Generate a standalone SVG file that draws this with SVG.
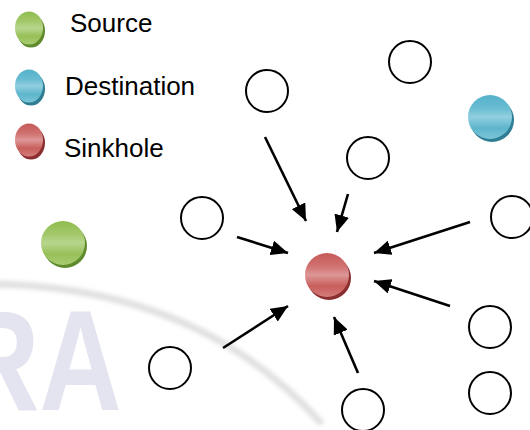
<svg xmlns="http://www.w3.org/2000/svg" width="530" height="430" viewBox="0 0 530 430">
  <defs>
    <style>
      .node { fill: #ffffff; stroke: #000000; stroke-width: 2; }
      .edge { stroke: #000000; stroke-width: 2.6; fill: none; marker-end: url(#head); }
      .label { font-family: "Liberation Sans", Arial, sans-serif; font-size: 26px; fill: #000000; }
      .wm { font-family: "Liberation Sans", Arial, sans-serif; font-weight: bold; font-size: 142px; fill: #e4e4f1; }
    </style>
    <marker id="head" viewBox="0 0 17 15" refX="17" refY="7.5" markerWidth="17" markerHeight="15" markerUnits="userSpaceOnUse" orient="auto">
      <path d="M0,0 L17,7.5 L0,15 z" fill="#000000"/>
    </marker>
    <linearGradient id="gGreen" x1="0" y1="0" x2="0" y2="1">
      <stop offset="0" stop-color="#8fbc4e"/>
      <stop offset="0.3" stop-color="#a3c86a"/>
      <stop offset="0.5" stop-color="#b8d68e"/>
      <stop offset="0.75" stop-color="#97c058"/>
      <stop offset="1" stop-color="#a8cc72"/>
    </linearGradient>
    <linearGradient id="gBlue" x1="0" y1="0" x2="0" y2="1">
      <stop offset="0" stop-color="#55b2ca"/>
      <stop offset="0.3" stop-color="#68bcd2"/>
      <stop offset="0.5" stop-color="#92cfe0"/>
      <stop offset="0.75" stop-color="#5db5cc"/>
      <stop offset="1" stop-color="#7cc5d8"/>
    </linearGradient>
    <linearGradient id="gRed" x1="0" y1="0" x2="0" y2="1">
      <stop offset="0" stop-color="#c65b59"/>
      <stop offset="0.3" stop-color="#cf7170"/>
      <stop offset="0.5" stop-color="#dc9796"/>
      <stop offset="0.75" stop-color="#c85e5c"/>
      <stop offset="1" stop-color="#d47c7a"/>
    </linearGradient>
    <filter id="soft" x="-10%" y="-10%" width="120%" height="120%">
      <feGaussianBlur stdDeviation="2"/>
    </filter>
  </defs>

  <!-- faint background mark -->
  <g id="watermark">
    <path d="M-5,284 Q200,288 322,424" fill="none" stroke="#e0e0e0" stroke-width="7" filter="url(#soft)"/>
    <text class="wm" x="0" y="410" transform="scale(0.8,1)" text-anchor="end" dx="152">RA</text>
  </g>

  <!-- legend -->
  <g id="legend">
    <g id="legend-source">
      <ellipse cx="31" cy="31" rx="14" ry="16.5" fill="#5f8b2d"/>
      <ellipse cx="29" cy="28" rx="14" ry="16.5" fill="url(#gGreen)"/>
      <text class="label" x="70" y="32">Source</text>
    </g>
    <g id="legend-destination">
      <ellipse cx="31" cy="89" rx="14" ry="16.5" fill="#2f7d93"/>
      <ellipse cx="29" cy="86" rx="14" ry="16.5" fill="url(#gBlue)"/>
      <text class="label" x="65" y="95">Destination</text>
    </g>
    <g id="legend-sinkhole">
      <ellipse cx="31" cy="143" rx="14" ry="16.5" fill="#8a2f2f"/>
      <ellipse cx="29" cy="140" rx="14" ry="16.5" fill="url(#gRed)"/>
      <text class="label" x="64" y="157">Sinkhole</text>
    </g>
  </g>

  <!-- connectors: every neighbour points at the sinkhole -->
  <g id="connectors">
    <line class="edge" x1="265" y1="137" x2="306" y2="221"/>
    <line class="edge" x1="348" y1="194" x2="337" y2="232"/>
    <line class="edge" x1="237" y1="237" x2="288" y2="253"/>
    <line class="edge" x1="223" y1="348" x2="288" y2="306"/>
    <line class="edge" x1="470" y1="222" x2="374" y2="253"/>
    <line class="edge" x1="450" y1="306" x2="374" y2="281"/>
    <line class="edge" x1="358" y1="373" x2="334" y2="317"/>
  </g>

  <!-- special nodes -->
  <g id="source">
    <circle cx="65" cy="246" r="22" fill="#5f8b2d"/>
    <circle cx="63" cy="243" r="22" fill="url(#gGreen)"/>
  </g>
  <g id="destination">
    <circle cx="492" cy="120" r="22" fill="#2f7d93"/>
    <circle cx="490" cy="117" r="22" fill="url(#gBlue)"/>
  </g>
  <g id="sinkhole">
    <circle cx="329" cy="278" r="22" fill="#8a2f2f"/>
    <circle cx="327" cy="275" r="22" fill="url(#gRed)"/>
  </g>

  <!-- ordinary nodes -->
  <g id="n1"><circle class="node" cx="267" cy="91" r="21"/></g>
  <g id="n2"><circle class="node" cx="410" cy="62" r="21"/></g>
  <g id="n3"><circle class="node" cx="368" cy="158" r="21"/></g>
  <g id="n4"><circle class="node" cx="202" cy="218" r="21"/></g>
  <g id="n5"><circle class="node" cx="170" cy="368" r="21"/></g>
  <g id="n6"><circle class="node" cx="512" cy="217" r="21"/></g>
  <g id="n7"><circle class="node" cx="490" cy="327" r="21"/></g>
  <g id="n8"><circle class="node" cx="490" cy="393" r="21"/></g>
  <g id="n9"><circle class="node" cx="363" cy="410" r="21"/></g>
</svg>
